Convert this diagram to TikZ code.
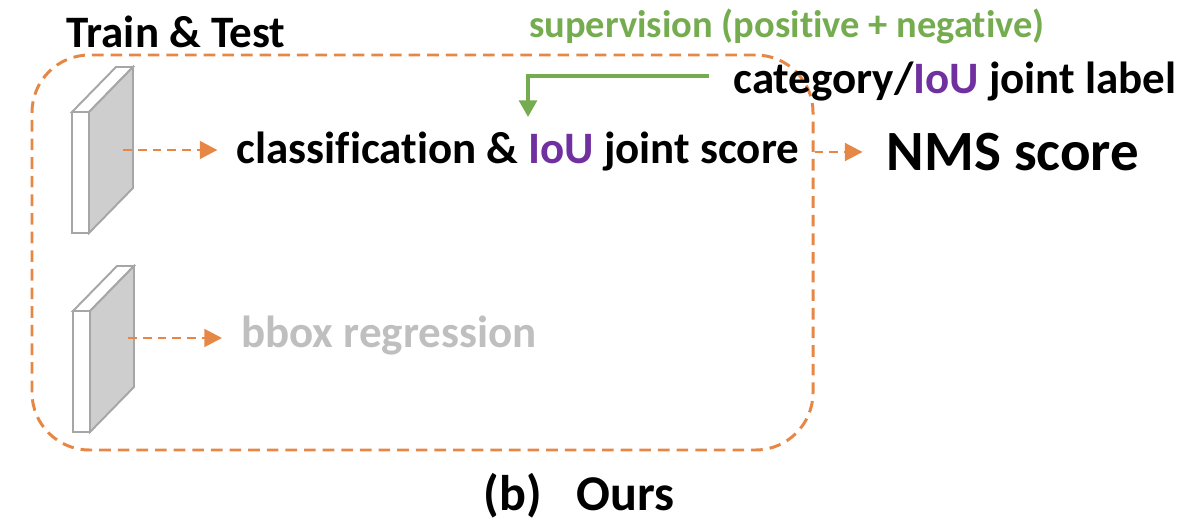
\documentclass[tikz,border=0pt]{standalone}
\usepackage{fontspec}
\setmainfont[Ligatures=NoCommon]{Carlito}
\usepackage{xcolor}
\usepackage{tikz}
\usetikzlibrary{arrows.meta, positioning, calc}

\definecolor{framecol}{RGB}{230,135,70}
\definecolor{supgreen}{RGB}{118,172,80}
\definecolor{ioupurple}{RGB}{112,48,160}
\definecolor{greytext}{RGB}{191,191,191}
\definecolor{mapline}{RGB}{166,166,166}
\definecolor{mapside}{RGB}{206,206,206}

\begin{document}
\begin{tikzpicture}[
    txt/.style={inner sep=0pt, font=\fontsize{25.6}{30}\selectfont\bfseries},
    frame/.style={draw=framecol, line width=1.7pt, dash pattern=on 6.6pt off 4pt, rounded corners=1.15cm},
    flow/.style={draw=framecol, line width=1.6pt, dash pattern=on 5pt off 3.4pt, -{Triangle[length=10pt,width=10pt]}},
    sup/.style={draw=supgreen, line width=2.3pt, -{Triangle[length=9.5pt,width=10pt]}},
    fmap/.style={draw=mapline, line width=1.1pt, line join=miter}
]
    \useasboundingbox (0,0) rectangle (23.68,-10.6);

    % FRAME
    \node (frame) [frame, minimum width=15.62cm, minimum height=7.9cm] at (8.45,-5.05) {};
    \node (title) [txt] at (3.52,-0.64) {Train \& Test};

    % FEATURE MAPS
    \draw[fmap, fill=white] (1.44,-4.66) rectangle ++(0.34,2.42);
    \draw[fmap, fill=white] (1.44,-2.24) -- ++(0.88,0.9) -- ++(0.34,0) -- ++(-0.88,-0.9) -- cycle;
    \draw[fmap, fill=mapside] (1.78,-2.24) -- ++(0.88,0.9) -- ++(0,-2.42) -- ++(-0.88,-0.9) -- cycle;
    \coordinate (fm1) at (2.46,-3.0);

    \draw[fmap, fill=white] (1.46,-8.64) rectangle ++(0.34,2.42);
    \draw[fmap, fill=white] (1.46,-6.22) -- ++(0.88,0.9) -- ++(0.34,0) -- ++(-0.88,-0.9) -- cycle;
    \draw[fmap, fill=mapside] (1.80,-6.22) -- ++(0.88,0.9) -- ++(0,-2.42) -- ++(-0.88,-0.9) -- cycle;
    \coordinate (fm2) at (2.56,-6.76);

    % HEADS
    \node (cls) [txt] at (10.36,-3.04) {classification \& \textcolor{ioupurple}{IoU} joint score};
    \node (bbox) [txt, text=greytext] at (7.78,-6.72) {bbox regression};
    \draw[flow, shorten >=0.38cm] (fm1) -- (fm1 -| cls.west);
    \draw[flow, shorten >=0.38cm] (fm2) -- (fm2 -| bbox.west);

    % SUPERVISION
    \node (sup) [txt, text=supgreen, font=\fontsize{21.9}{26}\selectfont\bfseries] at (15.74,-0.52) {supervision (positive + negative)};
    \node (label) [txt] at (19.1,-1.64) {category/\textcolor{ioupurple}{IoU} joint label};
    \coordinate (bend) at (10.56,-1.52);
    \draw[sup, shorten <=0.48cm, shorten >=0.3cm] (label.west |- bend) -- (bend) -- (bend |- cls.north);

    % OUTPUT
    \node (nms) [txt, font=\fontsize{32.4}{38}\selectfont\bfseries] at (20.26,-3.04) {NMS score};
    \draw[flow, shorten >=0.48cm] (frame.east |- nms.west) -- (nms.west);

    \node (caption) [txt, font=\fontsize{28.5}{34}\selectfont\bfseries] at (11.58,-9.92) {(b)\hspace{0.7em}Ours};
\end{tikzpicture}
\end{document}
